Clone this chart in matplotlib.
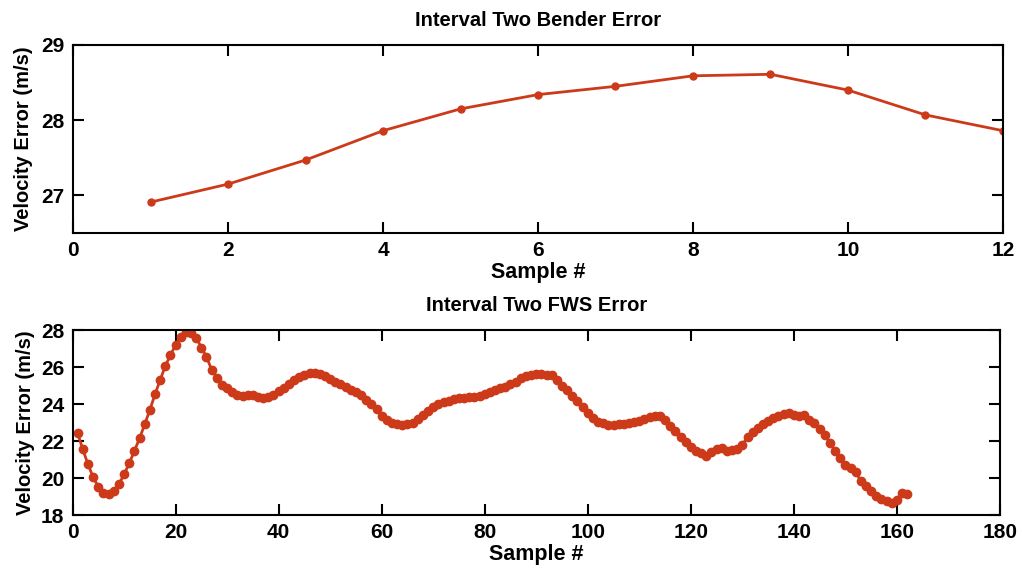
import matplotlib
matplotlib.use("Agg")
import matplotlib.pyplot as plt
import numpy as np

plt.rcParams['font.family'] = ['Liberation Sans', 'DejaVu Sans']
plt.rcParams['font.weight'] = 'bold'

# Top panel: Interval Two Bender Error
bender_samples = list(range(1, 13))
bender_error = [26.91, 27.15, 27.47, 27.86, 28.15, 28.34, 28.45, 28.59, 28.61, 28.40, 28.07, 27.86]

# Bottom panel: Interval Two FWS Error
fws_error = [
    22.41, 21.55, 20.74, 20.05, 19.53, 19.17, 19.12, 19.32, 19.66, 20.20,
    20.79, 21.46, 22.14, 22.90, 23.68, 24.52, 25.30, 26.05, 26.65, 27.19,
    27.64, 27.87, 27.82, 27.59, 27.05, 26.55, 25.85, 25.42, 25.05, 24.85,
    24.67, 24.51, 24.41, 24.47, 24.50, 24.39, 24.33, 24.37, 24.50, 24.70,
    24.88, 25.10, 25.28, 25.44, 25.58, 25.69, 25.66, 25.62, 25.51, 25.35,
    25.20, 25.06, 24.90, 24.78, 24.64, 24.47, 24.22, 23.98, 23.73, 23.35,
    23.12, 22.99, 22.92, 22.88, 22.92, 22.99, 23.17, 23.41, 23.62, 23.86,
    24.00, 24.09, 24.18, 24.25, 24.31, 24.34, 24.38, 24.40, 24.45, 24.52,
    24.63, 24.74, 24.85, 24.90, 25.06, 25.21, 25.39, 25.51, 25.59, 25.62,
    25.60, 25.59, 25.57, 25.30, 24.99, 24.76, 24.45, 24.18, 23.86, 23.50,
    23.23, 23.05, 22.95, 22.88, 22.86, 22.90, 22.92, 22.95, 23.01, 23.08,
    23.19, 23.32, 23.35, 23.33, 23.14, 22.83, 22.56, 22.23, 21.96, 21.69,
    21.46, 21.33, 21.19, 21.39, 21.55, 21.64, 21.48, 21.53, 21.55, 21.78,
    22.23, 22.50, 22.72, 22.90, 23.08, 23.23, 23.35, 23.46, 23.53, 23.42,
    23.38, 23.40, 23.15, 22.95, 22.65, 22.30, 21.90, 21.45, 21.10, 20.70,
    20.55, 20.30, 19.85, 19.55, 19.30, 19.05, 18.88, 18.76, 18.66, 18.80,
    19.20, 19.16,
]
fws_samples = list(range(1, len(fws_error) + 1))

color = '#cc3a1a'

fig = plt.figure(figsize=(10.23, 5.75), dpi=100)
ax1 = fig.add_axes([0.0714, 0.5948, 0.909, 0.327])
ax2 = fig.add_axes([0.0709, 0.1043, 0.9066, 0.3217])

ax1.plot(bender_samples, bender_error, '-o', color=color, lw=2, ms=5)
ax1.set_xlim(0, 12)
ax1.set_ylim(26.5, 29)
ax1.set_xticks(range(0, 13, 2))
ax1.set_yticks([27, 28, 29])
ax1.set_title('Interval Two Bender Error', fontsize=14.5, fontweight='bold', pad=14)
ax1.set_xlabel('Sample #', fontsize=15.5, fontweight='bold', labelpad=1)
ax1.set_ylabel('Velocity Error (m/s)', fontsize=14.5, fontweight='bold', labelpad=6)

ax2.plot(fws_samples, fws_error, '-o', color=color, lw=2, ms=6)
ax2.set_xlim(0, 180)
ax2.set_ylim(18, 28)
ax2.set_xticks(range(0, 181, 20))
ax2.set_yticks(range(18, 29, 2))
ax2.set_title('Interval Two FWS Error', fontsize=14.5, fontweight='bold', pad=14)
ax2.set_xlabel('Sample #', fontsize=15.5, fontweight='bold', labelpad=1)
ax2.set_ylabel('Velocity Error (m/s)', fontsize=14.5, fontweight='bold', labelpad=4)

for ax in (ax1, ax2):
    ax.tick_params(direction='in', top=True, right=True, length=8, width=1.5,
                   labelsize=15, pad=6)
    for lab in ax.get_xticklabels() + ax.get_yticklabels():
        lab.set_fontweight('bold')
    for sp in ax.spines.values():
        sp.set_linewidth(1.5)

fig.savefig('out.png', dpi=100)
